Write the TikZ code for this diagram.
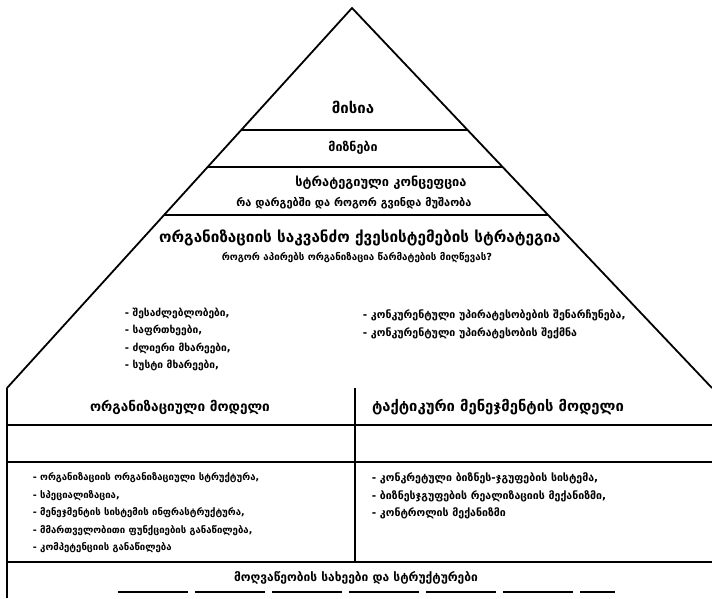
\documentclass[tikz,border=0pt]{standalone}
\usepackage{fontspec}
\newfontfamily\geo{DejaVu Sans}
\usetikzlibrary{positioning,calc}

\begin{document}
\begin{tikzpicture}[x=1pt,y=-1pt,line width=1.8pt,
    title/.style={font=\geo\bfseries\fontsize{#1}{20}\selectfont,inner sep=1pt},
    items/.style={font=\geo\bfseries\fontsize{#1}{17.5}\selectfont,align=left,anchor=north west,inner sep=0pt}]
  \useasboundingbox (0,0) rectangle (712,598);
  % Draw pyramid
  \coordinate (apex) at (352,8);
  \coordinate (bl) at (7,388);
  \coordinate (br) at (712,388);
  \draw[line join=round] (bl) -- (apex) -- (br);
  % bands of the pyramid
  \foreach \y in {130,167,215}
    \draw ($(apex)!{(\y-8)/380}!(bl)$) -- ($(apex)!{(\y-8)/380}!(br)$);
  \node[title=15] (mission) at (353,107) {მისია};
  \node[title=12.5] (goals) at (353,148) {მიზნები};
  \node[title=12.8] (concepta) at (381,183) {სტრატეგიული კონცეფცია};
  \node[title=11] (conceptb) at (354,203) {რა დარგებში და როგორ გვინდა მუშაობა};
  \node[title=15.3] (strategya) at (360,238) {ორგანიზაციის საკვანძო ქვესისტემების სტრატეგია};
  \node[title=9.8] (strategyb) at (357,258) {როგორ აპირებს ორგანიზაცია წარმატების მიღწევას?};
  \node[items=10.2] (swot) at (124,307) {- შესაძლებლობები,\\- საფრთხეები,\\- ძლიერი მხარეები,\\- სუსტი მხარეები,};
  \node[items=10.6] (advantage) at (362,309) {- კონკურენტული უპირატესობების შენარჩუნება,\\- კონკურენტული უპირატესობის შექმნა};
  % Draw table under the pyramid
  \draw (bl) -- (7,598);
  \draw (355,388) -- (355,562);
  \foreach \y in {425,462,562}
    \draw (7,\y) -- (712,\y);
  \draw[dash pattern=on 70pt off 7pt] (118,592) -- (615,592);
  \node[title=13.6] (orgmodel) at (180,407) {ორგანიზაციული მოდელი};
  \node[title=14.8] (tactmodel) at (498,407) {ტაქტიკური მენეჯმენტის მოდელი};
  \node[items=9.6] (orglist) at (32,472) {- ორგანიზაციის ორგანიზაციული სტრუქტურა,\\- სპეციალიზაცია,\\- მენეჯმენტის სისტემის ინფრასტრუქტურა,\\- მმართველობითი ფუნქციების განაწილება,\\- კომპეტენციის განაწილება};
  \node[items=10.6] (tactlist) at (371,472) {- კონკრეტული ბიზნეს-ჯგუფების სისტემა,\\- ბიზნესჯგუფების რეალიზაციის მექანიზმი,\\- კონტროლის მექანიზმი};
  \node[title=12] (activity) at (356,578) {მოღვაწეობის სახეები და სტრუქტურები};
\end{tikzpicture}
\end{document}
